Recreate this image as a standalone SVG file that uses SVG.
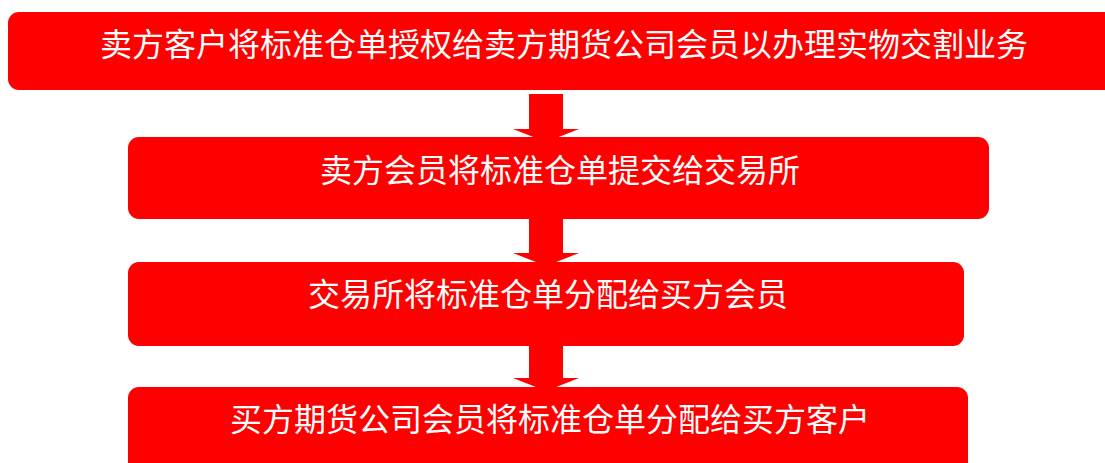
<svg xmlns="http://www.w3.org/2000/svg" width="1105" height="463" viewBox="0 0 1105 463">
<style>
.box{fill:#FF0000}
.arr{fill:#FF0000}
.t{fill:#FFFFFF;font-family:"Noto Sans CJK SC","Noto Sans",sans-serif;font-size:32px;text-anchor:middle}
</style>
<rect width="1105" height="463" fill="#FFFFFF"/>
<g id="connectors">
<polygon class="arr" points="529,94 563,94 563,129 579,129 546,142 513,129 529,129"/>
<polygon class="arr" points="529,216 563,216 563,253 579,253 546,266 513,253 529,253"/>
<polygon class="arr" points="529,342 563,342 563,378 579,378 546,391 513,378 529,378"/>
</g>
<g id="node1">
<rect class="box" x="8" y="12" width="1112" height="78" rx="11"/>
<text class="t" x="564" y="56">卖方客户将标准仓单授权给卖方期货公司会员以办理实物交割业务</text>
</g>
<g id="node2">
<rect class="box" x="128" y="137" width="861" height="82" rx="11"/>
<text class="t" x="560" y="182">卖方会员将标准仓单提交给交易所</text>
</g>
<g id="node3">
<rect class="box" x="128" y="262" width="836" height="84" rx="11"/>
<text class="t" x="548" y="306">交易所将标准仓单分配给买方会员</text>
</g>
<g id="node4">
<rect class="box" x="128" y="387" width="840" height="90" rx="11"/>
<text class="t" x="550" y="431">买方期货公司会员将标准仓单分配给买方客户</text>
</g>
</svg>
